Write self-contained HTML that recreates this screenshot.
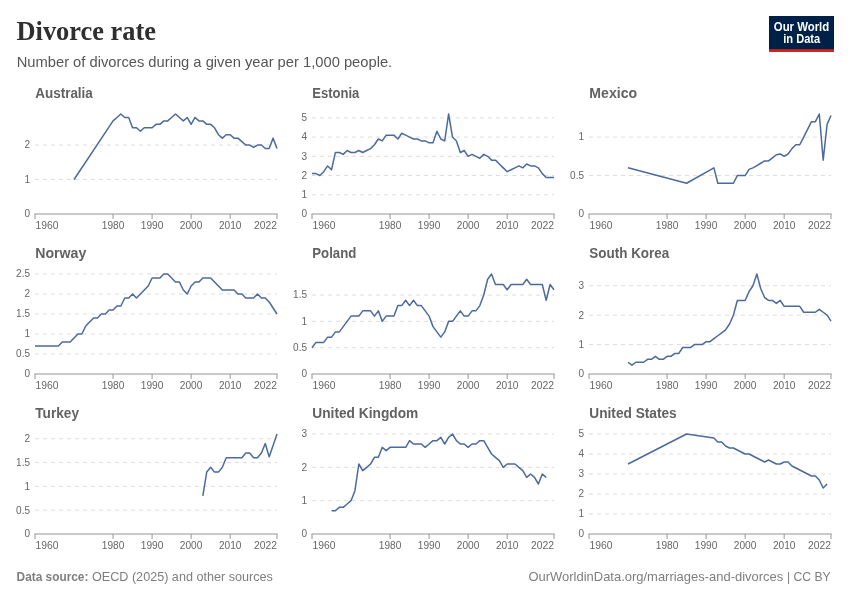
<!DOCTYPE html>
<html><head><meta charset="utf-8"><title>Divorce rate</title>
<style>html,body{margin:0;padding:0;background:#fff;}body{width:850px;height:600px;overflow:hidden;}svg{display:block;will-change:transform;}text{font-family:"Liberation Sans",sans-serif;}</style>
</head><body>
<svg width="850" height="600" viewBox="0 0 850 600">
<rect x="0" y="0" width="850" height="600" fill="#ffffff"/>
<text x="16.5" y="40" font-family="'Liberation Serif',serif" font-weight="700" font-size="27" fill="#2f2f2f" textLength="139.5" lengthAdjust="spacingAndGlyphs" style="font-family:'Liberation Serif',serif">Divorce rate</text>
<text x="16.7" y="67" font-size="15" fill="#565656" textLength="375.5" lengthAdjust="spacingAndGlyphs">Number of divorces during a given year per 1,000 people.</text>
<g><rect x="769" y="16" width="65" height="36" fill="#002147"/><rect x="769" y="49.2" width="65" height="2.8" fill="#ce261e"/>
<text x="801.5" y="30.8" font-size="12" font-weight="700" fill="#ffffff" text-anchor="middle" textLength="55.4" lengthAdjust="spacingAndGlyphs">Our World</text>
<text x="801.7" y="42.6" font-size="12" font-weight="700" fill="#ffffff" text-anchor="middle" textLength="37" lengthAdjust="spacingAndGlyphs">in Data</text></g>
<text x="16.6" y="581" font-size="13" font-weight="700" fill="#7e7e7e" textLength="71.8" lengthAdjust="spacingAndGlyphs">Data source:</text>
<text x="92" y="581" font-size="13" fill="#7e7e7e" textLength="180.8" lengthAdjust="spacingAndGlyphs">OECD (2025) and other sources</text>
<text x="528.5" y="581" font-size="13" fill="#7e7e7e" textLength="254.7" lengthAdjust="spacingAndGlyphs">OurWorldinData.org/marriages-and-divorces</text>
<text x="787" y="581" font-size="13" fill="#7e7e7e" textLength="43.6" lengthAdjust="spacingAndGlyphs">| CC BY</text>
<g>
<text x="35.3" y="97.8" font-size="14" font-weight="700" fill="#626262" textLength="57.5" lengthAdjust="spacingAndGlyphs">Australia</text>
<text x="30.0" y="217.35" font-size="10" fill="#666666" text-anchor="end">0</text>
<line x1="35.0" y1="179.52" x2="277.0" y2="179.52" stroke="#dddddd" stroke-width="1" stroke-dasharray="4,4"/>
<text x="30.0" y="182.87" font-size="10" fill="#666666" text-anchor="end">1</text>
<line x1="35.0" y1="145.03" x2="277.0" y2="145.03" stroke="#dddddd" stroke-width="1" stroke-dasharray="4,4"/>
<text x="30.0" y="148.38" font-size="10" fill="#666666" text-anchor="end">2</text>
<line x1="34.5" y1="214.00" x2="277.5" y2="214.00" stroke="#969696" stroke-width="1"/>
<line x1="35.00" y1="214.00" x2="35.00" y2="219.00" stroke="#969696" stroke-width="1"/>
<text x="35.40" y="229.00" font-size="10" fill="#666666" textLength="23" lengthAdjust="spacingAndGlyphs">1960</text>
<line x1="113.06" y1="214.00" x2="113.06" y2="219.00" stroke="#969696" stroke-width="1"/>
<text x="113.06" y="229.00" font-size="10" fill="#666666" text-anchor="middle" textLength="22.5" lengthAdjust="spacingAndGlyphs">1980</text>
<line x1="152.10" y1="214.00" x2="152.10" y2="219.00" stroke="#969696" stroke-width="1"/>
<text x="152.10" y="229.00" font-size="10" fill="#666666" text-anchor="middle" textLength="22.5" lengthAdjust="spacingAndGlyphs">1990</text>
<line x1="191.13" y1="214.00" x2="191.13" y2="219.00" stroke="#969696" stroke-width="1"/>
<text x="191.13" y="229.00" font-size="10" fill="#666666" text-anchor="middle" textLength="22.5" lengthAdjust="spacingAndGlyphs">2000</text>
<line x1="230.16" y1="214.00" x2="230.16" y2="219.00" stroke="#969696" stroke-width="1"/>
<text x="230.16" y="229.00" font-size="10" fill="#666666" text-anchor="middle" textLength="22.5" lengthAdjust="spacingAndGlyphs">2010</text>
<line x1="277.00" y1="214.00" x2="277.00" y2="219.00" stroke="#969696" stroke-width="1"/>
<text x="277.00" y="229.00" font-size="10" fill="#666666" text-anchor="end" textLength="23" lengthAdjust="spacingAndGlyphs">2022</text>
<polyline points="74.03,179.52 113.06,120.90 116.97,117.45 120.87,114.00 124.77,117.45 128.68,117.45 132.58,127.79 136.48,127.79 140.39,131.24 144.29,127.79 148.19,127.79 152.10,127.79 156.00,124.34 159.90,124.34 163.81,120.90 167.71,120.90 171.61,117.45 175.52,114.00 179.42,117.45 183.32,120.90 187.23,117.45 191.13,124.34 195.03,117.45 198.94,120.90 202.84,120.90 206.74,124.34 210.65,124.34 214.55,127.79 218.45,134.69 222.35,138.14 226.26,134.69 230.16,134.69 234.06,138.14 237.97,138.14 241.87,141.59 245.77,145.03 249.68,145.03 253.58,147.45 257.48,145.03 261.39,145.03 265.29,148.48 269.19,148.48 273.10,138.14 277.00,148.48" fill="none" stroke="#4c6a9c" stroke-width="1.5" stroke-linejoin="round" stroke-linecap="butt"/>
</g>
<g>
<text x="312.3" y="97.8" font-size="14" font-weight="700" fill="#626262" textLength="47" lengthAdjust="spacingAndGlyphs">Estonia</text>
<text x="307.0" y="217.35" font-size="10" fill="#666666" text-anchor="end">0</text>
<line x1="312.0" y1="194.77" x2="554.0" y2="194.77" stroke="#dddddd" stroke-width="1" stroke-dasharray="4,4"/>
<text x="307.0" y="198.12" font-size="10" fill="#666666" text-anchor="end">1</text>
<line x1="312.0" y1="175.54" x2="554.0" y2="175.54" stroke="#dddddd" stroke-width="1" stroke-dasharray="4,4"/>
<text x="307.0" y="178.89" font-size="10" fill="#666666" text-anchor="end">2</text>
<line x1="312.0" y1="156.31" x2="554.0" y2="156.31" stroke="#dddddd" stroke-width="1" stroke-dasharray="4,4"/>
<text x="307.0" y="159.66" font-size="10" fill="#666666" text-anchor="end">3</text>
<line x1="312.0" y1="137.08" x2="554.0" y2="137.08" stroke="#dddddd" stroke-width="1" stroke-dasharray="4,4"/>
<text x="307.0" y="140.43" font-size="10" fill="#666666" text-anchor="end">4</text>
<line x1="312.0" y1="117.85" x2="554.0" y2="117.85" stroke="#dddddd" stroke-width="1" stroke-dasharray="4,4"/>
<text x="307.0" y="121.20" font-size="10" fill="#666666" text-anchor="end">5</text>
<line x1="311.5" y1="214.00" x2="554.5" y2="214.00" stroke="#969696" stroke-width="1"/>
<line x1="312.00" y1="214.00" x2="312.00" y2="219.00" stroke="#969696" stroke-width="1"/>
<text x="312.40" y="229.00" font-size="10" fill="#666666" textLength="23" lengthAdjust="spacingAndGlyphs">1960</text>
<line x1="390.06" y1="214.00" x2="390.06" y2="219.00" stroke="#969696" stroke-width="1"/>
<text x="390.06" y="229.00" font-size="10" fill="#666666" text-anchor="middle" textLength="22.5" lengthAdjust="spacingAndGlyphs">1980</text>
<line x1="429.10" y1="214.00" x2="429.10" y2="219.00" stroke="#969696" stroke-width="1"/>
<text x="429.10" y="229.00" font-size="10" fill="#666666" text-anchor="middle" textLength="22.5" lengthAdjust="spacingAndGlyphs">1990</text>
<line x1="468.13" y1="214.00" x2="468.13" y2="219.00" stroke="#969696" stroke-width="1"/>
<text x="468.13" y="229.00" font-size="10" fill="#666666" text-anchor="middle" textLength="22.5" lengthAdjust="spacingAndGlyphs">2000</text>
<line x1="507.16" y1="214.00" x2="507.16" y2="219.00" stroke="#969696" stroke-width="1"/>
<text x="507.16" y="229.00" font-size="10" fill="#666666" text-anchor="middle" textLength="22.5" lengthAdjust="spacingAndGlyphs">2010</text>
<line x1="554.00" y1="214.00" x2="554.00" y2="219.00" stroke="#969696" stroke-width="1"/>
<text x="554.00" y="229.00" font-size="10" fill="#666666" text-anchor="end" textLength="23" lengthAdjust="spacingAndGlyphs">2022</text>
<polyline points="312.00,173.62 315.90,173.62 319.81,175.54 323.71,171.69 327.61,165.92 331.52,169.77 335.42,152.46 339.32,152.46 343.23,154.38 347.13,150.54 351.03,152.46 354.94,152.46 358.84,150.54 362.74,152.46 366.65,150.54 370.55,148.62 374.45,144.77 378.35,139.00 382.26,140.92 386.16,135.15 390.06,135.15 393.97,135.15 397.87,139.00 401.77,133.23 405.68,135.15 409.58,137.08 413.48,139.00 417.39,139.00 421.29,140.92 425.19,140.92 429.10,142.85 433.00,142.85 436.90,131.31 440.81,139.00 444.71,140.92 448.61,114.00 452.52,137.08 456.42,140.92 460.32,152.46 464.23,150.54 468.13,156.31 472.03,154.38 475.94,156.31 479.84,158.23 483.74,154.38 487.65,156.31 491.55,160.15 495.45,160.15 499.35,164.00 503.26,167.85 507.16,171.69 511.06,169.77 514.97,167.85 518.87,165.92 522.77,167.85 526.68,164.00 530.58,165.92 534.48,165.92 538.39,167.85 542.29,173.62 546.19,177.46 550.10,177.46 554.00,177.46" fill="none" stroke="#4c6a9c" stroke-width="1.5" stroke-linejoin="round" stroke-linecap="butt"/>
</g>
<g>
<text x="589.3" y="97.8" font-size="14" font-weight="700" fill="#626262" textLength="47.8" lengthAdjust="spacingAndGlyphs">Mexico</text>
<text x="584.0" y="217.35" font-size="10" fill="#666666" text-anchor="end">0</text>
<line x1="589.0" y1="175.54" x2="831.0" y2="175.54" stroke="#dddddd" stroke-width="1" stroke-dasharray="4,4"/>
<text x="584.0" y="178.89" font-size="10" fill="#666666" text-anchor="end">0.5</text>
<line x1="589.0" y1="137.08" x2="831.0" y2="137.08" stroke="#dddddd" stroke-width="1" stroke-dasharray="4,4"/>
<text x="584.0" y="140.43" font-size="10" fill="#666666" text-anchor="end">1</text>
<line x1="588.5" y1="214.00" x2="831.5" y2="214.00" stroke="#969696" stroke-width="1"/>
<line x1="589.00" y1="214.00" x2="589.00" y2="219.00" stroke="#969696" stroke-width="1"/>
<text x="589.40" y="229.00" font-size="10" fill="#666666" textLength="23" lengthAdjust="spacingAndGlyphs">1960</text>
<line x1="667.06" y1="214.00" x2="667.06" y2="219.00" stroke="#969696" stroke-width="1"/>
<text x="667.06" y="229.00" font-size="10" fill="#666666" text-anchor="middle" textLength="22.5" lengthAdjust="spacingAndGlyphs">1980</text>
<line x1="706.10" y1="214.00" x2="706.10" y2="219.00" stroke="#969696" stroke-width="1"/>
<text x="706.10" y="229.00" font-size="10" fill="#666666" text-anchor="middle" textLength="22.5" lengthAdjust="spacingAndGlyphs">1990</text>
<line x1="745.13" y1="214.00" x2="745.13" y2="219.00" stroke="#969696" stroke-width="1"/>
<text x="745.13" y="229.00" font-size="10" fill="#666666" text-anchor="middle" textLength="22.5" lengthAdjust="spacingAndGlyphs">2000</text>
<line x1="784.16" y1="214.00" x2="784.16" y2="219.00" stroke="#969696" stroke-width="1"/>
<text x="784.16" y="229.00" font-size="10" fill="#666666" text-anchor="middle" textLength="22.5" lengthAdjust="spacingAndGlyphs">2010</text>
<line x1="831.00" y1="214.00" x2="831.00" y2="219.00" stroke="#969696" stroke-width="1"/>
<text x="831.00" y="229.00" font-size="10" fill="#666666" text-anchor="end" textLength="23" lengthAdjust="spacingAndGlyphs">2022</text>
<polyline points="628.03,167.85 686.58,183.23 713.90,167.85 717.81,183.23 721.71,183.23 725.61,183.23 729.52,183.23 733.42,183.23 737.32,175.54 741.23,175.54 745.13,175.54 749.03,169.38 752.94,167.85 756.84,165.54 760.74,163.23 764.65,160.92 768.55,160.92 772.45,157.85 776.35,154.77 780.26,154.00 784.16,156.31 788.06,154.00 791.97,148.62 795.87,144.77 799.77,144.77 803.68,137.08 807.58,129.38 811.48,121.69 815.39,121.69 819.29,114.00 823.19,160.15 827.10,124.38 831.00,115.54" fill="none" stroke="#4c6a9c" stroke-width="1.5" stroke-linejoin="round" stroke-linecap="butt"/>
</g>
<g>
<text x="35.3" y="257.8" font-size="14" font-weight="700" fill="#626262" textLength="51" lengthAdjust="spacingAndGlyphs">Norway</text>
<text x="30.0" y="377.35" font-size="10" fill="#666666" text-anchor="end">0</text>
<line x1="35.0" y1="354.00" x2="277.0" y2="354.00" stroke="#dddddd" stroke-width="1" stroke-dasharray="4,4"/>
<text x="30.0" y="357.35" font-size="10" fill="#666666" text-anchor="end">0.5</text>
<line x1="35.0" y1="334.00" x2="277.0" y2="334.00" stroke="#dddddd" stroke-width="1" stroke-dasharray="4,4"/>
<text x="30.0" y="337.35" font-size="10" fill="#666666" text-anchor="end">1</text>
<line x1="35.0" y1="314.00" x2="277.0" y2="314.00" stroke="#dddddd" stroke-width="1" stroke-dasharray="4,4"/>
<text x="30.0" y="317.35" font-size="10" fill="#666666" text-anchor="end">1.5</text>
<line x1="35.0" y1="294.00" x2="277.0" y2="294.00" stroke="#dddddd" stroke-width="1" stroke-dasharray="4,4"/>
<text x="30.0" y="297.35" font-size="10" fill="#666666" text-anchor="end">2</text>
<line x1="35.0" y1="274.00" x2="277.0" y2="274.00" stroke="#dddddd" stroke-width="1" stroke-dasharray="4,4"/>
<text x="30.0" y="277.35" font-size="10" fill="#666666" text-anchor="end">2.5</text>
<line x1="34.5" y1="374.00" x2="277.5" y2="374.00" stroke="#969696" stroke-width="1"/>
<line x1="35.00" y1="374.00" x2="35.00" y2="379.00" stroke="#969696" stroke-width="1"/>
<text x="35.40" y="389.00" font-size="10" fill="#666666" textLength="23" lengthAdjust="spacingAndGlyphs">1960</text>
<line x1="113.06" y1="374.00" x2="113.06" y2="379.00" stroke="#969696" stroke-width="1"/>
<text x="113.06" y="389.00" font-size="10" fill="#666666" text-anchor="middle" textLength="22.5" lengthAdjust="spacingAndGlyphs">1980</text>
<line x1="152.10" y1="374.00" x2="152.10" y2="379.00" stroke="#969696" stroke-width="1"/>
<text x="152.10" y="389.00" font-size="10" fill="#666666" text-anchor="middle" textLength="22.5" lengthAdjust="spacingAndGlyphs">1990</text>
<line x1="191.13" y1="374.00" x2="191.13" y2="379.00" stroke="#969696" stroke-width="1"/>
<text x="191.13" y="389.00" font-size="10" fill="#666666" text-anchor="middle" textLength="22.5" lengthAdjust="spacingAndGlyphs">2000</text>
<line x1="230.16" y1="374.00" x2="230.16" y2="379.00" stroke="#969696" stroke-width="1"/>
<text x="230.16" y="389.00" font-size="10" fill="#666666" text-anchor="middle" textLength="22.5" lengthAdjust="spacingAndGlyphs">2010</text>
<line x1="277.00" y1="374.00" x2="277.00" y2="379.00" stroke="#969696" stroke-width="1"/>
<text x="277.00" y="389.00" font-size="10" fill="#666666" text-anchor="end" textLength="23" lengthAdjust="spacingAndGlyphs">2022</text>
<polyline points="35.00,346.00 38.90,346.00 42.81,346.00 46.71,346.00 50.61,346.00 54.52,346.00 58.42,346.00 62.32,342.00 66.23,342.00 70.13,342.00 74.03,338.00 77.94,334.00 81.84,334.00 85.74,326.00 89.65,322.00 93.55,318.00 97.45,318.00 101.35,314.00 105.26,314.00 109.16,310.00 113.06,310.00 116.97,306.00 120.87,306.00 124.77,298.00 128.68,298.00 132.58,294.00 136.48,298.00 140.39,294.00 144.29,290.00 148.19,286.00 152.10,278.00 156.00,278.00 159.90,278.00 163.81,274.00 167.71,274.00 171.61,278.00 175.52,282.00 179.42,282.00 183.32,290.00 187.23,294.00 191.13,286.00 195.03,282.00 198.94,282.00 202.84,278.00 206.74,278.00 210.65,278.00 214.55,282.00 218.45,286.00 222.35,290.00 226.26,290.00 230.16,290.00 234.06,290.00 237.97,294.00 241.87,294.00 245.77,298.00 249.68,298.00 253.58,298.00 257.48,294.00 261.39,298.00 265.29,298.00 269.19,302.00 273.10,308.00 277.00,314.00" fill="none" stroke="#4c6a9c" stroke-width="1.5" stroke-linejoin="round" stroke-linecap="butt"/>
</g>
<g>
<text x="312.3" y="257.8" font-size="14" font-weight="700" fill="#626262" textLength="44" lengthAdjust="spacingAndGlyphs">Poland</text>
<text x="307.0" y="377.35" font-size="10" fill="#666666" text-anchor="end">0</text>
<line x1="312.0" y1="347.68" x2="554.0" y2="347.68" stroke="#dddddd" stroke-width="1" stroke-dasharray="4,4"/>
<text x="307.0" y="351.03" font-size="10" fill="#666666" text-anchor="end">0.5</text>
<line x1="312.0" y1="321.37" x2="554.0" y2="321.37" stroke="#dddddd" stroke-width="1" stroke-dasharray="4,4"/>
<text x="307.0" y="324.72" font-size="10" fill="#666666" text-anchor="end">1</text>
<line x1="312.0" y1="295.05" x2="554.0" y2="295.05" stroke="#dddddd" stroke-width="1" stroke-dasharray="4,4"/>
<text x="307.0" y="298.40" font-size="10" fill="#666666" text-anchor="end">1.5</text>
<line x1="311.5" y1="374.00" x2="554.5" y2="374.00" stroke="#969696" stroke-width="1"/>
<line x1="312.00" y1="374.00" x2="312.00" y2="379.00" stroke="#969696" stroke-width="1"/>
<text x="312.40" y="389.00" font-size="10" fill="#666666" textLength="23" lengthAdjust="spacingAndGlyphs">1960</text>
<line x1="390.06" y1="374.00" x2="390.06" y2="379.00" stroke="#969696" stroke-width="1"/>
<text x="390.06" y="389.00" font-size="10" fill="#666666" text-anchor="middle" textLength="22.5" lengthAdjust="spacingAndGlyphs">1980</text>
<line x1="429.10" y1="374.00" x2="429.10" y2="379.00" stroke="#969696" stroke-width="1"/>
<text x="429.10" y="389.00" font-size="10" fill="#666666" text-anchor="middle" textLength="22.5" lengthAdjust="spacingAndGlyphs">1990</text>
<line x1="468.13" y1="374.00" x2="468.13" y2="379.00" stroke="#969696" stroke-width="1"/>
<text x="468.13" y="389.00" font-size="10" fill="#666666" text-anchor="middle" textLength="22.5" lengthAdjust="spacingAndGlyphs">2000</text>
<line x1="507.16" y1="374.00" x2="507.16" y2="379.00" stroke="#969696" stroke-width="1"/>
<text x="507.16" y="389.00" font-size="10" fill="#666666" text-anchor="middle" textLength="22.5" lengthAdjust="spacingAndGlyphs">2010</text>
<line x1="554.00" y1="374.00" x2="554.00" y2="379.00" stroke="#969696" stroke-width="1"/>
<text x="554.00" y="389.00" font-size="10" fill="#666666" text-anchor="end" textLength="23" lengthAdjust="spacingAndGlyphs">2022</text>
<polyline points="312.00,347.68 315.90,342.42 319.81,342.42 323.71,342.42 327.61,337.16 331.52,337.16 335.42,331.89 339.32,331.89 343.23,326.63 347.13,321.37 351.03,316.11 354.94,316.11 358.84,316.11 362.74,310.84 366.65,310.84 370.55,310.84 374.45,316.11 378.35,310.84 382.26,321.37 386.16,316.11 390.06,316.11 393.97,316.11 397.87,305.58 401.77,305.58 405.68,300.32 409.58,305.58 413.48,300.32 417.39,305.58 421.29,305.58 425.19,310.84 429.10,316.11 433.00,326.63 436.90,331.89 440.81,337.16 444.71,331.89 448.61,321.37 452.52,321.37 456.42,316.11 460.32,310.84 464.23,316.11 468.13,316.11 472.03,310.84 475.94,310.84 479.84,305.58 483.74,295.05 487.65,279.26 491.55,274.00 495.45,284.53 499.35,284.53 503.26,284.53 507.16,289.79 511.06,284.53 514.97,284.53 518.87,284.53 522.77,284.53 526.68,279.26 530.58,284.53 534.48,284.53 538.39,284.53 542.29,284.53 546.19,300.32 550.10,284.53 554.00,289.79" fill="none" stroke="#4c6a9c" stroke-width="1.5" stroke-linejoin="round" stroke-linecap="butt"/>
</g>
<g>
<text x="589.3" y="257.8" font-size="14" font-weight="700" fill="#626262" textLength="80" lengthAdjust="spacingAndGlyphs">South Korea</text>
<text x="584.0" y="377.35" font-size="10" fill="#666666" text-anchor="end">0</text>
<line x1="589.0" y1="344.59" x2="831.0" y2="344.59" stroke="#dddddd" stroke-width="1" stroke-dasharray="4,4"/>
<text x="584.0" y="347.94" font-size="10" fill="#666666" text-anchor="end">1</text>
<line x1="589.0" y1="315.18" x2="831.0" y2="315.18" stroke="#dddddd" stroke-width="1" stroke-dasharray="4,4"/>
<text x="584.0" y="318.53" font-size="10" fill="#666666" text-anchor="end">2</text>
<line x1="589.0" y1="285.76" x2="831.0" y2="285.76" stroke="#dddddd" stroke-width="1" stroke-dasharray="4,4"/>
<text x="584.0" y="289.11" font-size="10" fill="#666666" text-anchor="end">3</text>
<line x1="588.5" y1="374.00" x2="831.5" y2="374.00" stroke="#969696" stroke-width="1"/>
<line x1="589.00" y1="374.00" x2="589.00" y2="379.00" stroke="#969696" stroke-width="1"/>
<text x="589.40" y="389.00" font-size="10" fill="#666666" textLength="23" lengthAdjust="spacingAndGlyphs">1960</text>
<line x1="667.06" y1="374.00" x2="667.06" y2="379.00" stroke="#969696" stroke-width="1"/>
<text x="667.06" y="389.00" font-size="10" fill="#666666" text-anchor="middle" textLength="22.5" lengthAdjust="spacingAndGlyphs">1980</text>
<line x1="706.10" y1="374.00" x2="706.10" y2="379.00" stroke="#969696" stroke-width="1"/>
<text x="706.10" y="389.00" font-size="10" fill="#666666" text-anchor="middle" textLength="22.5" lengthAdjust="spacingAndGlyphs">1990</text>
<line x1="745.13" y1="374.00" x2="745.13" y2="379.00" stroke="#969696" stroke-width="1"/>
<text x="745.13" y="389.00" font-size="10" fill="#666666" text-anchor="middle" textLength="22.5" lengthAdjust="spacingAndGlyphs">2000</text>
<line x1="784.16" y1="374.00" x2="784.16" y2="379.00" stroke="#969696" stroke-width="1"/>
<text x="784.16" y="389.00" font-size="10" fill="#666666" text-anchor="middle" textLength="22.5" lengthAdjust="spacingAndGlyphs">2010</text>
<line x1="831.00" y1="374.00" x2="831.00" y2="379.00" stroke="#969696" stroke-width="1"/>
<text x="831.00" y="389.00" font-size="10" fill="#666666" text-anchor="end" textLength="23" lengthAdjust="spacingAndGlyphs">2022</text>
<polyline points="628.03,362.24 631.94,365.18 635.84,362.24 639.74,362.24 643.65,362.24 647.55,359.29 651.45,359.29 655.35,356.35 659.26,359.29 663.16,359.29 667.06,356.35 670.97,356.35 674.87,353.41 678.77,353.41 682.68,347.53 686.58,347.53 690.48,347.53 694.39,344.59 698.29,344.59 702.19,344.59 706.10,341.65 710.00,341.65 713.90,338.71 717.81,335.76 721.71,332.82 725.61,329.88 729.52,324.00 733.42,315.18 737.32,300.47 741.23,300.47 745.13,300.47 749.03,291.65 752.94,285.76 756.84,274.00 760.74,288.71 764.65,297.53 768.55,300.47 772.45,300.47 776.35,303.41 780.26,300.47 784.16,306.35 788.06,306.35 791.97,306.35 795.87,306.35 799.77,306.35 803.68,312.24 807.58,312.24 811.48,312.24 815.39,312.24 819.29,309.29 823.19,312.24 827.10,315.18 831.00,321.06" fill="none" stroke="#4c6a9c" stroke-width="1.5" stroke-linejoin="round" stroke-linecap="butt"/>
</g>
<g>
<text x="35.3" y="417.8" font-size="14" font-weight="700" fill="#626262" textLength="43.7" lengthAdjust="spacingAndGlyphs">Turkey</text>
<text x="30.0" y="537.35" font-size="10" fill="#666666" text-anchor="end">0</text>
<line x1="35.0" y1="510.19" x2="277.0" y2="510.19" stroke="#dddddd" stroke-width="1" stroke-dasharray="4,4"/>
<text x="30.0" y="513.54" font-size="10" fill="#666666" text-anchor="end">0.5</text>
<line x1="35.0" y1="486.38" x2="277.0" y2="486.38" stroke="#dddddd" stroke-width="1" stroke-dasharray="4,4"/>
<text x="30.0" y="489.73" font-size="10" fill="#666666" text-anchor="end">1</text>
<line x1="35.0" y1="462.57" x2="277.0" y2="462.57" stroke="#dddddd" stroke-width="1" stroke-dasharray="4,4"/>
<text x="30.0" y="465.92" font-size="10" fill="#666666" text-anchor="end">1.5</text>
<line x1="35.0" y1="438.76" x2="277.0" y2="438.76" stroke="#dddddd" stroke-width="1" stroke-dasharray="4,4"/>
<text x="30.0" y="442.11" font-size="10" fill="#666666" text-anchor="end">2</text>
<line x1="34.5" y1="534.00" x2="277.5" y2="534.00" stroke="#969696" stroke-width="1"/>
<line x1="35.00" y1="534.00" x2="35.00" y2="539.00" stroke="#969696" stroke-width="1"/>
<text x="35.40" y="549.00" font-size="10" fill="#666666" textLength="23" lengthAdjust="spacingAndGlyphs">1960</text>
<line x1="113.06" y1="534.00" x2="113.06" y2="539.00" stroke="#969696" stroke-width="1"/>
<text x="113.06" y="549.00" font-size="10" fill="#666666" text-anchor="middle" textLength="22.5" lengthAdjust="spacingAndGlyphs">1980</text>
<line x1="152.10" y1="534.00" x2="152.10" y2="539.00" stroke="#969696" stroke-width="1"/>
<text x="152.10" y="549.00" font-size="10" fill="#666666" text-anchor="middle" textLength="22.5" lengthAdjust="spacingAndGlyphs">1990</text>
<line x1="191.13" y1="534.00" x2="191.13" y2="539.00" stroke="#969696" stroke-width="1"/>
<text x="191.13" y="549.00" font-size="10" fill="#666666" text-anchor="middle" textLength="22.5" lengthAdjust="spacingAndGlyphs">2000</text>
<line x1="230.16" y1="534.00" x2="230.16" y2="539.00" stroke="#969696" stroke-width="1"/>
<text x="230.16" y="549.00" font-size="10" fill="#666666" text-anchor="middle" textLength="22.5" lengthAdjust="spacingAndGlyphs">2010</text>
<line x1="277.00" y1="534.00" x2="277.00" y2="539.00" stroke="#969696" stroke-width="1"/>
<text x="277.00" y="549.00" font-size="10" fill="#666666" text-anchor="end" textLength="23" lengthAdjust="spacingAndGlyphs">2022</text>
<polyline points="202.84,495.90 206.74,472.10 210.65,467.33 214.55,472.10 218.45,472.10 222.35,467.33 226.26,457.81 230.16,457.81 234.06,457.81 237.97,457.81 241.87,457.81 245.77,453.05 249.68,453.05 253.58,457.81 257.48,457.81 261.39,453.05 265.29,443.52 269.19,456.86 273.10,445.43 277.00,434.00" fill="none" stroke="#4c6a9c" stroke-width="1.5" stroke-linejoin="round" stroke-linecap="butt"/>
</g>
<g>
<text x="312.3" y="417.8" font-size="14" font-weight="700" fill="#626262" textLength="106" lengthAdjust="spacingAndGlyphs">United Kingdom</text>
<text x="307.0" y="537.35" font-size="10" fill="#666666" text-anchor="end">0</text>
<line x1="312.0" y1="500.67" x2="554.0" y2="500.67" stroke="#dddddd" stroke-width="1" stroke-dasharray="4,4"/>
<text x="307.0" y="504.02" font-size="10" fill="#666666" text-anchor="end">1</text>
<line x1="312.0" y1="467.33" x2="554.0" y2="467.33" stroke="#dddddd" stroke-width="1" stroke-dasharray="4,4"/>
<text x="307.0" y="470.68" font-size="10" fill="#666666" text-anchor="end">2</text>
<line x1="312.0" y1="434.00" x2="554.0" y2="434.00" stroke="#dddddd" stroke-width="1" stroke-dasharray="4,4"/>
<text x="307.0" y="437.35" font-size="10" fill="#666666" text-anchor="end">3</text>
<line x1="311.5" y1="534.00" x2="554.5" y2="534.00" stroke="#969696" stroke-width="1"/>
<line x1="312.00" y1="534.00" x2="312.00" y2="539.00" stroke="#969696" stroke-width="1"/>
<text x="312.40" y="549.00" font-size="10" fill="#666666" textLength="23" lengthAdjust="spacingAndGlyphs">1960</text>
<line x1="390.06" y1="534.00" x2="390.06" y2="539.00" stroke="#969696" stroke-width="1"/>
<text x="390.06" y="549.00" font-size="10" fill="#666666" text-anchor="middle" textLength="22.5" lengthAdjust="spacingAndGlyphs">1980</text>
<line x1="429.10" y1="534.00" x2="429.10" y2="539.00" stroke="#969696" stroke-width="1"/>
<text x="429.10" y="549.00" font-size="10" fill="#666666" text-anchor="middle" textLength="22.5" lengthAdjust="spacingAndGlyphs">1990</text>
<line x1="468.13" y1="534.00" x2="468.13" y2="539.00" stroke="#969696" stroke-width="1"/>
<text x="468.13" y="549.00" font-size="10" fill="#666666" text-anchor="middle" textLength="22.5" lengthAdjust="spacingAndGlyphs">2000</text>
<line x1="507.16" y1="534.00" x2="507.16" y2="539.00" stroke="#969696" stroke-width="1"/>
<text x="507.16" y="549.00" font-size="10" fill="#666666" text-anchor="middle" textLength="22.5" lengthAdjust="spacingAndGlyphs">2010</text>
<line x1="554.00" y1="534.00" x2="554.00" y2="539.00" stroke="#969696" stroke-width="1"/>
<text x="554.00" y="549.00" font-size="10" fill="#666666" text-anchor="end" textLength="23" lengthAdjust="spacingAndGlyphs">2022</text>
<polyline points="331.52,510.67 335.42,510.67 339.32,507.33 343.23,507.33 347.13,504.00 351.03,500.67 354.94,490.67 358.84,464.00 362.74,470.67 366.65,467.33 370.55,464.00 374.45,457.33 378.35,457.33 382.26,447.33 386.16,450.67 390.06,447.33 393.97,447.33 397.87,447.33 401.77,447.33 405.68,447.33 409.58,440.67 413.48,444.00 417.39,444.00 421.29,444.00 425.19,447.33 429.10,444.00 433.00,440.67 436.90,440.67 440.81,437.33 444.71,444.00 448.61,437.33 452.52,434.00 456.42,440.67 460.32,444.00 464.23,444.00 468.13,447.33 472.03,444.00 475.94,444.00 479.84,440.67 483.74,440.67 487.65,447.33 491.55,454.00 495.45,457.33 499.35,460.67 503.26,467.33 507.16,464.00 511.06,464.00 514.97,464.00 518.87,467.33 522.77,470.67 526.68,477.33 530.58,474.00 534.48,477.33 538.39,484.00 542.29,474.00 546.19,477.33" fill="none" stroke="#4c6a9c" stroke-width="1.5" stroke-linejoin="round" stroke-linecap="butt"/>
</g>
<g>
<text x="589.3" y="417.8" font-size="14" font-weight="700" fill="#626262" textLength="87.4" lengthAdjust="spacingAndGlyphs">United States</text>
<text x="584.0" y="537.35" font-size="10" fill="#666666" text-anchor="end">0</text>
<line x1="589.0" y1="514.00" x2="831.0" y2="514.00" stroke="#dddddd" stroke-width="1" stroke-dasharray="4,4"/>
<text x="584.0" y="517.35" font-size="10" fill="#666666" text-anchor="end">1</text>
<line x1="589.0" y1="494.00" x2="831.0" y2="494.00" stroke="#dddddd" stroke-width="1" stroke-dasharray="4,4"/>
<text x="584.0" y="497.35" font-size="10" fill="#666666" text-anchor="end">2</text>
<line x1="589.0" y1="474.00" x2="831.0" y2="474.00" stroke="#dddddd" stroke-width="1" stroke-dasharray="4,4"/>
<text x="584.0" y="477.35" font-size="10" fill="#666666" text-anchor="end">3</text>
<line x1="589.0" y1="454.00" x2="831.0" y2="454.00" stroke="#dddddd" stroke-width="1" stroke-dasharray="4,4"/>
<text x="584.0" y="457.35" font-size="10" fill="#666666" text-anchor="end">4</text>
<line x1="589.0" y1="434.00" x2="831.0" y2="434.00" stroke="#dddddd" stroke-width="1" stroke-dasharray="4,4"/>
<text x="584.0" y="437.35" font-size="10" fill="#666666" text-anchor="end">5</text>
<line x1="588.5" y1="534.00" x2="831.5" y2="534.00" stroke="#969696" stroke-width="1"/>
<line x1="589.00" y1="534.00" x2="589.00" y2="539.00" stroke="#969696" stroke-width="1"/>
<text x="589.40" y="549.00" font-size="10" fill="#666666" textLength="23" lengthAdjust="spacingAndGlyphs">1960</text>
<line x1="667.06" y1="534.00" x2="667.06" y2="539.00" stroke="#969696" stroke-width="1"/>
<text x="667.06" y="549.00" font-size="10" fill="#666666" text-anchor="middle" textLength="22.5" lengthAdjust="spacingAndGlyphs">1980</text>
<line x1="706.10" y1="534.00" x2="706.10" y2="539.00" stroke="#969696" stroke-width="1"/>
<text x="706.10" y="549.00" font-size="10" fill="#666666" text-anchor="middle" textLength="22.5" lengthAdjust="spacingAndGlyphs">1990</text>
<line x1="745.13" y1="534.00" x2="745.13" y2="539.00" stroke="#969696" stroke-width="1"/>
<text x="745.13" y="549.00" font-size="10" fill="#666666" text-anchor="middle" textLength="22.5" lengthAdjust="spacingAndGlyphs">2000</text>
<line x1="784.16" y1="534.00" x2="784.16" y2="539.00" stroke="#969696" stroke-width="1"/>
<text x="784.16" y="549.00" font-size="10" fill="#666666" text-anchor="middle" textLength="22.5" lengthAdjust="spacingAndGlyphs">2010</text>
<line x1="831.00" y1="534.00" x2="831.00" y2="539.00" stroke="#969696" stroke-width="1"/>
<text x="831.00" y="549.00" font-size="10" fill="#666666" text-anchor="end" textLength="23" lengthAdjust="spacingAndGlyphs">2022</text>
<polyline points="628.03,464.00 686.58,434.00 713.90,438.00 717.81,442.00 721.71,442.00 725.61,446.00 729.52,448.00 733.42,448.00 737.32,450.00 741.23,452.00 745.13,454.00 749.03,454.00 752.94,456.00 756.84,458.00 760.74,460.00 764.65,462.00 768.55,460.00 772.45,462.00 776.35,464.00 780.26,464.00 784.16,462.00 788.06,462.00 791.97,466.00 795.87,468.00 799.77,470.00 803.68,472.00 807.58,474.00 811.48,476.00 815.39,476.00 819.29,480.00 823.19,488.00 827.10,484.00" fill="none" stroke="#4c6a9c" stroke-width="1.5" stroke-linejoin="round" stroke-linecap="butt"/>
</g>
</svg>
</body></html>
